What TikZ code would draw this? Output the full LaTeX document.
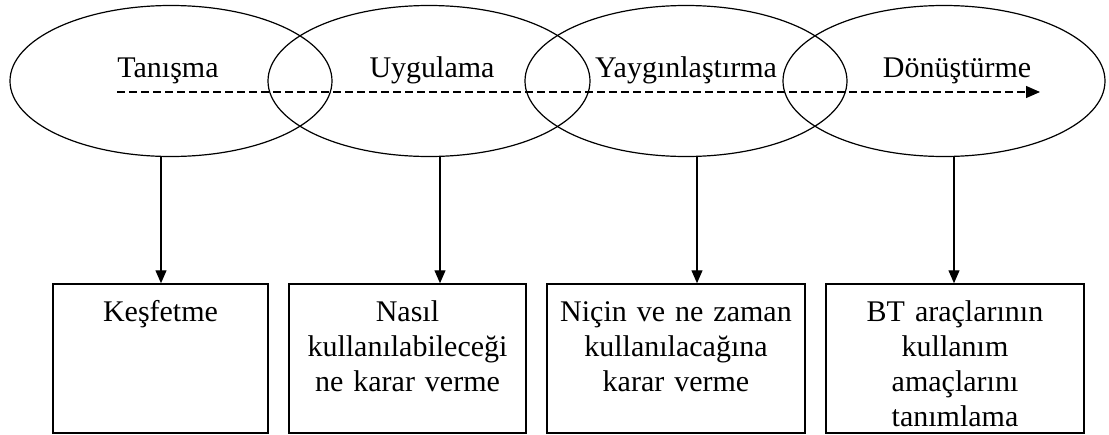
\documentclass[tikz,border=0pt]{standalone}
\usepackage{fontspec}
\setmainfont{Liberation Serif}
\usetikzlibrary{shapes.geometric,arrows.meta}
\tikzset{
  ell/.style={draw, ellipse, line width=1.2pt, minimum width=322pt, minimum height=151pt, inner sep=0pt},
  lbl/.style={font=\fontsize{30}{35}\selectfont, anchor=base, inner sep=0pt},
  stagebox/.style={draw, line width=1.5pt, inner sep=0pt},
  boxtext/.style={font=\fontsize{30}{35}\selectfont, align=center, anchor=base, inner sep=0pt},
  varrow/.style={line width=1.3pt, -{Triangle[length=13pt,width=11pt]}},
  dasharrow/.style={line width=1.3pt, dash pattern=on 8pt off 4pt, -{Triangle[length=14pt,width=12pt]}}
}
\begin{document}
\begin{tikzpicture}[x=1pt,y=-1pt]
\useasboundingbox (0,0) rectangle (1109,434);
% ellipses
\node[ell] (e1) at (171,81) {};
\node[ell] (e2) at (429,81) {};
\node[ell] (e3) at (686,81) {};
\node[ell] (e4) at (944,81) {};
% ellipse labels
\node[lbl] (l1) at (168,77) {Tanışma};
\node[lbl] (l2) at (432,77) {Uygulama};
\node[lbl] (l3) at (686,77) {Yaygınlaştırma};
\node[lbl] (l4) at (957,77) {Dönüştürme};
% dashed arrow
\coordinate (ds) at (117,92);
\coordinate (de) at (1040,92);
\draw[dasharrow] (ds) -- (de);
% boxes
\node[stagebox, minimum width=215pt, minimum height=149pt] (b1) at (160.5,358.5) {};
\node[stagebox, minimum width=237pt, minimum height=149pt] (b2) at (407.5,358.5) {};
\node[stagebox, minimum width=258pt, minimum height=149pt] (b3) at (676,358.5) {};
\node[stagebox, minimum width=258pt, minimum height=149pt] (b4) at (955,358.5) {};
% box texts
\node[boxtext, text width=210pt] (t1) at (160.5,321) {Keşfetme};
\node[boxtext, text width=230pt] (t2) at (407.5,321) {Nasıl\\kullanılabileceği\\ne karar verme};
\node[boxtext, text width=250pt] (t3) at (676,321) {Niçin ve ne zaman\\kullanılacağına\\karar verme};
\node[boxtext, text width=250pt] (t4) at (955,321) {BT araçlarının\\kullanım\\amaçlarını\\tanımlama};
% vertical arrows
\draw[varrow] ([xshift=-10pt]e1.south) -- ([xshift=-10pt]e1.south |- b1.north);
\draw[varrow] ([xshift=11pt]e2.south) -- ([xshift=11pt]e2.south |- b2.north);
\draw[varrow] ([xshift=11pt]e3.south) -- ([xshift=11pt]e3.south |- b3.north);
\draw[varrow] ([xshift=10pt]e4.south) -- ([xshift=10pt]e4.south |- b4.north);
\end{tikzpicture}
\end{document}
